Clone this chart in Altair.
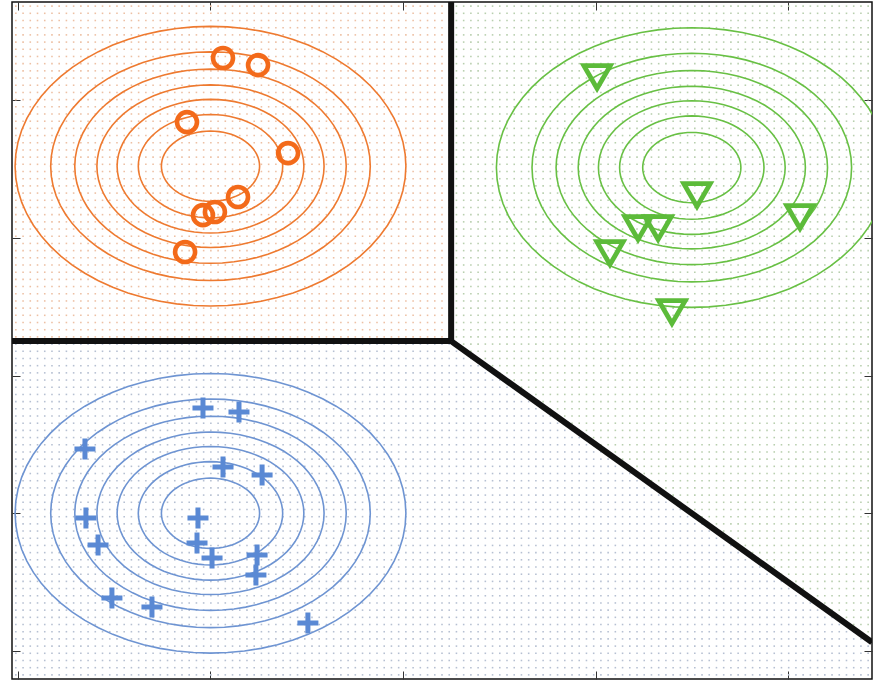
import altair as alt
import numpy as np
import pandas as pd

# Axis extents in data units and tick positions (labels are hidden)
X_MIN, X_MAX = -0.031, 4.436
Y_MIN, Y_MAX = -0.203, 4.712
TICKS = [0, 1, 2, 3, 4]

# Three classes: names, marker colours, contour colours, background-dot colours
classes = ["orange", "green", "blue"]
marker_colors = ["#F36A1A", "#5CBB3A", "#5A89D4"]
contour_colors = ["#EE7A30", "#68C044", "#6E94D2"]
dot_colors = ["#EDC0A4", "#B8CFAE", "#B6C0D2"]

# Class means and the Gaussian contour radii (same for every class)
mean_x = [1.0, 3.5, 1.0]
mean_y = [3.52, 3.51, 1.0]
contour_radii = [0.255, 0.375, 0.485, 0.59, 0.705, 0.83, 1.015]

# Samples of each class
orange_x = [1.065, 1.247, 0.878, 1.403, 1.143, 1.023, 0.961, 0.868]
orange_y = [4.305, 4.254, 3.840, 3.615, 3.296, 3.187, 3.165, 2.897]

green_x = [3.008, 3.527, 4.062, 3.221, 3.325, 3.075, 3.397]
green_y = [4.167, 3.310, 3.151, 3.071, 3.071, 2.889, 2.461]

blue_x = [0.961, 1.148, 0.348, 1.065, 1.268, 0.353, 0.935, 0.416,
          0.930, 1.008, 1.242, 1.236, 0.488, 0.696, 1.506]
blue_y = [1.764, 1.735, 1.466, 1.336, 1.278, 0.966, 0.966, 0.770,
          0.784, 0.675, 0.697, 0.552, 0.385, 0.319, 0.203]

# Decision boundary polylines (segment id, x, y)
boundary_seg = [0, 0, 1, 1, 2, 2]
boundary_x = [X_MIN, 2.25, 2.25, 2.25, 2.25, X_MAX]
boundary_y = [2.25, 2.25, Y_MAX, 2.25, 2.25, 0.064]

# Evaluation grid shown as faint dots, coloured by predicted class
grid_nx, grid_ny = 119, 94


def region_of(x, y):
    if x < 2.25 and y >= 2.25:
        return "orange"
    if x + y < 4.5:
        return "blue"
    return "green"


gx = np.linspace(X_MIN + 0.02, X_MAX - 0.02, grid_nx)
gy = np.linspace(Y_MIN + 0.03, Y_MAX - 0.03, grid_ny)
grid_rows = [
    {"x": float(x), "y": float(y), "cls": region_of(x, y)}
    for x in gx for y in gy
]
grid_df = pd.DataFrame(grid_rows)

# Contour ellipses
contour_rows = []
theta = np.linspace(0, 2 * np.pi, 73)
for ci, cname in enumerate(classes):
    for li, r in enumerate(contour_radii):
        for k, t in enumerate(theta):
            contour_rows.append({
                "x": mean_x[ci] + r * np.cos(t),
                "y": mean_y[ci] + r * np.sin(t),
                "cls": cname, "level": f"{cname}-{li}", "k": k,
            })
contour_df = pd.DataFrame(contour_rows)

orange_df = pd.DataFrame({"x": orange_x, "y": orange_y})
green_df = pd.DataFrame({"x": green_x, "y": green_y})
blue_df = pd.DataFrame({"x": blue_x, "y": blue_y})
boundary_df = pd.DataFrame({"seg": boundary_seg, "x": boundary_x,
                            "y": boundary_y, "k": list(range(len(boundary_x)))})

x_scale = alt.Scale(domain=[X_MIN, X_MAX], nice=False, zero=False)
y_scale = alt.Scale(domain=[Y_MIN, Y_MAX], nice=False, zero=False)


def tick_axis(orient):
    return alt.Axis(orient=orient, values=TICKS, labels=False, domain=False,
                    grid=False, ticks=True, tickSize=8, tickWidth=1,
                    tickColor="#333333", offset=-8, title=None)


dots = alt.Chart(grid_df).mark_square(size=2.5, opacity=1).encode(
    x=alt.X("x:Q", scale=x_scale, axis=tick_axis("bottom")),
    y=alt.Y("y:Q", scale=y_scale, axis=tick_axis("left")),
    color=alt.Color("cls:N", scale=alt.Scale(domain=classes, range=dot_colors),
                    legend=None),
)

contours = alt.Chart(contour_df).mark_line(strokeWidth=1.6, clip=True).encode(
    x=alt.X("x:Q", scale=x_scale, axis=None),
    y=alt.Y("y:Q", scale=y_scale, axis=None),
    detail="level:N",
    order="k:Q",
    stroke=alt.Stroke("cls:N", scale=alt.Scale(domain=classes, range=contour_colors),
                      legend=None),
)

boundary = alt.Chart(boundary_df).mark_line(
    strokeWidth=6, color="#111111", strokeCap="butt", strokeJoin="miter", clip=True
).encode(
    x=alt.X("x:Q", scale=x_scale, axis=tick_axis("top")),
    y=alt.Y("y:Q", scale=y_scale, axis=tick_axis("right")),
    detail="seg:N",
    order="k:Q",
)

orange_pts = alt.Chart(orange_df).mark_point(
    shape="circle", filled=False, size=400, strokeWidth=4.6,
    color=marker_colors[0], opacity=1,
).encode(x=alt.X("x:Q", scale=x_scale, axis=None),
         y=alt.Y("y:Q", scale=y_scale, axis=None))

green_pts = alt.Chart(green_df).mark_point(
    shape="triangle-down", filled=False, size=700, strokeWidth=4.8,
    color=marker_colors[1], opacity=1,
).encode(x=alt.X("x:Q", scale=x_scale, axis=None),
         y=alt.Y("y:Q", scale=y_scale, axis=None))

blue_pts = alt.Chart(blue_df).mark_point(
    shape="M-1,0H1M0,-1V1", filled=False, size=441, strokeWidth=5,
    strokeCap="butt", color=marker_colors[2], opacity=1,
).encode(x=alt.X("x:Q", scale=x_scale, axis=None),
         y=alt.Y("y:Q", scale=y_scale, axis=None))

chart = alt.layer(
    dots, contours, boundary, orange_pts, green_pts, blue_pts
).resolve_axis(x="independent", y="independent").properties(
    width=860, height=677,
    padding={"left": 12, "top": 2, "right": 2, "bottom": 1},
    autosize="none",
    background="white",
).configure_view(stroke="#111111", strokeWidth=1.5)

chart.save("out.html", embed_options={"renderer": "svg", "actions": False})
